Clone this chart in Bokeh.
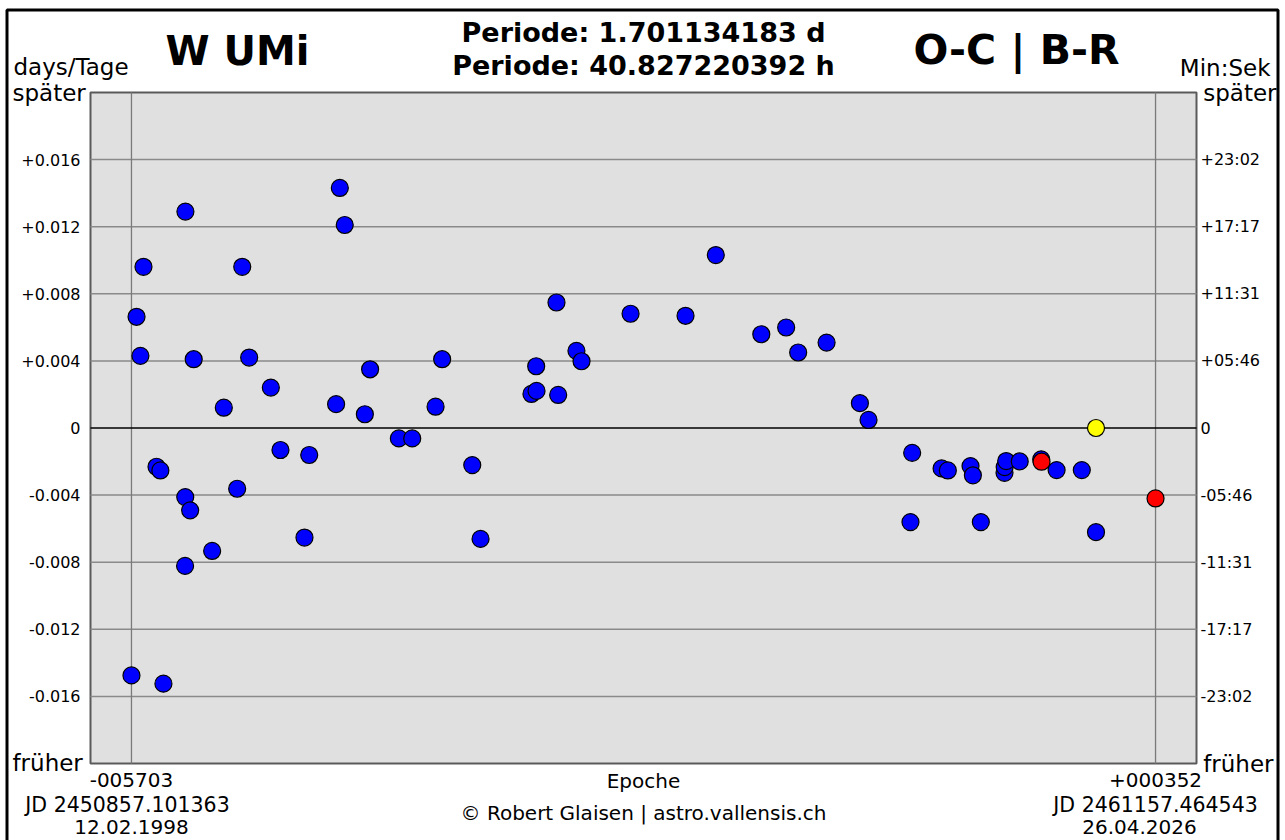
from bokeh.plotting import figure
from bokeh.models import Label, BoxAnnotation, Range1d
from bokeh.core.properties import value
from bokeh.embed import file_html
from bokeh.resources import INLINE

# ---------------- data ----------------
blue_epoch = [-5703, -5673, -5650, -5632, -5555, -5532, -5514, -5384, -5385, -5386,
              -5356, -5335, -5226, -5157, -5078, -5048, -5007, -4879, -4822, -4680,
              -4652, -4493, -4471, -4442, -4323, -4292, -4122, -4043, -3905, -3866,
              -3688, -3639, -3338, -3308, -3310, -3190, -3180, -3072, -3042, -2752,
              -2427, -2248, -1979, -1832, -1761, -1593, -1396, -1345, -1087, -1097,
              -913, -876, -742, -728, -681, -541, -540, -531, -451, -324,
              -233, -84, 0]
blue_oc = [-0.01475, 0.00663, 0.00430, 0.00961, -0.00231, -0.00253, -0.01524, 0.01290, -0.00412, -0.00822,
           -0.00491, 0.00410, -0.00733, 0.00121, -0.00362, 0.00961, 0.00420, 0.00241, -0.00131, -0.00653,
           -0.00161, 0.00142, 0.01431, 0.01210, 0.00082, 0.00350, -0.00062, -0.00062, 0.00127, 0.00410,
           -0.00221, -0.00661, 0.00203, 0.00221, 0.00368, 0.00748, 0.00197, 0.00460, 0.00398, 0.00681,
           0.00669, 0.01031, 0.00559, 0.00599, 0.00450, 0.00509, 0.00148, 0.00048, -0.00148, -0.00561,
           -0.00241, -0.00253, -0.00227, -0.00282, -0.00561, -0.00267, -0.00233, -0.00197, -0.00199, -0.00187,
           -0.00251, -0.00251, -0.00621]
red_epoch = [-322, 352]
red_oc = [-0.00201, -0.00420]
yellow_epoch = [0]
yellow_oc = [0.0]

start_epoch = -5703
end_epoch = 352
start_lines = ["-005703", "JD 2450857.101363", "12.02.1998"]
end_lines = ["+000352", "JD 2461157.464543", "26.04.2026"]

y_ticks = [-0.016, -0.012, -0.008, -0.004, 0.0, 0.004, 0.008, 0.012, 0.016]
left_labels = ["-0.016", "-0.012", "-0.008", "-0.004", "0", "+0.004", "+0.008", "+0.012", "+0.016"]
right_labels = ["-23:02", "-17:17", "-11:31", "-05:46", "0", "+05:46", "+11:31", "+17:17", "+23:02"]
y_limit = 0.020

title_left = "W UMi"
title_right = "O-C | B-R"
period_d = "Periode: 1.701134183 d"
period_h = "Periode: 40.827220392 h"
x_title = "Epoche"
credit = "\u00a9 Robert Glaisen | astro.vallensis.ch"

# ---------------- layout ----------------
FONT = "DejaVu Sans"
W, H = 1282, 840
# pixel box of the grey plotting area inside the canvas
PL, PT, PR, PB = 90, 92, 1196, 763

span = end_epoch - start_epoch
pad = 0.04 * span
x0, x1 = start_epoch - pad, end_epoch + pad
y0, y1 = -y_limit, y_limit


def X(px):
    return x0 + (px - PL) * (x1 - x0) / (PR - PL)


def Y(py):
    return y1 - (py - PT) * (y1 - y0) / (PB - PT)


# the whole canvas is the frame, so no text is clipped
p = figure(width=W, height=H, output_backend="svg", toolbar_location=None,
           x_range=Range1d(X(0), X(W)), y_range=Range1d(Y(H), Y(0)),
           x_axis_location=None, y_axis_location=None,
           min_border_left=0, min_border_right=0, min_border_top=0, min_border_bottom=0)
p.background_fill_color = "white"
p.border_fill_color = "white"
p.outline_line_color = None
for g in p.grid:
    g.visible = False

# grey plotting area with its frame
p.add_layout(BoxAnnotation(left=x0, right=x1, bottom=y0, top=y1,
                           fill_color="#e0e0e0", fill_alpha=1.0,
                           line_color="#5a5a5a", line_alpha=1.0, line_width=2,
                           level="image"))

# horizontal grid lines
grid_ticks = [t for t in y_ticks if t != 0.0]
n = len(grid_ticks)
p.segment(x0=[x0] * n, y0=grid_ticks, x1=[x1] * n, y1=grid_ticks,
          line_color="#8a8a8a", line_width=1.5)
# vertical lines at first / last epoch
p.segment(x0=[start_epoch, end_epoch], y0=[y0, y0], x1=[start_epoch, end_epoch], y1=[y1, y1],
          line_color="#7a7a7a", line_width=1.3)
# zero line
p.segment(x0=[x0], y0=[0.0], x1=[x1], y1=[0.0], line_color="black", line_width=1.5)

# data points
p.scatter(blue_epoch, blue_oc, size=17, fill_color="#0000ff", line_color="black", line_width=1.2)
p.scatter(red_epoch, red_oc, size=17, fill_color="#ff0000", line_color="black", line_width=1.2)
p.scatter(yellow_epoch, yellow_oc, size=17, fill_color="#ffff00", line_color="black", line_width=1.2)

# y tick labels (left: days, right: min:sec)
p.text(x=[X(PL - 10)] * len(y_ticks), y=y_ticks, text=left_labels,
       text_font=value(FONT), text_font_size=value("16px"), text_color="black",
       text_align="right", text_baseline="middle")
p.text(x=[X(PR + 4)] * len(y_ticks), y=y_ticks, text=right_labels,
       text_font=value(FONT), text_font_size=value("16px"), text_color="black",
       text_align="left", text_baseline="middle")


def lab(text, x, py, size, align="left", bold=False):
    p.add_layout(Label(x=x, y=Y(py), text=text, text_font=FONT,
                       text_font_size=size, text_align=align, text_baseline="middle",
                       text_font_style="bold" if bold else "normal", text_color="black"))


# titles (y = vertical centre of the text)
lab(title_left, X(237), 50, "40px", "center", True)
lab(title_right, X(1016), 49, "41px", "center", True)
lab(period_d, X(643), 32, "27px", "center", True)
lab(period_h, X(643), 65, "27px", "center", True)

# side labels
lab("days/Tage", X(13), 66, "23px")
lab("später", X(12), 92, "23px")
lab("früher", X(12), 762, "23px")
lab("Min:Sek", X(1270), 67, "23px", "right")
lab("später", X(1276), 92, "23px", "right")
lab("früher", X(1273), 763, "23px", "right")

# x tick labels (first / last epoch)
lab(start_lines[0], start_epoch, 779.5, "20px", "center")
lab(start_lines[1], X(127), 804, "20.5px", "center")
lab(start_lines[2], start_epoch, 826.5, "20px", "center")
lab(end_lines[0], end_epoch, 779.5, "20px", "center")
lab(end_lines[1], end_epoch, 804, "20.5px", "center")
lab(end_lines[2], X(1139), 826.5, "20px", "center")

# x title and credit
lab(x_title, X((PL + PR) / 2), 780, "20px", "center")
lab(credit, X((PL + PR) / 2), 812, "20px", "center")

# outer black frame (bottom edge lies below the canvas)
p.add_layout(BoxAnnotation(left=X(6.5), right=X(1277.5), top=Y(9.5), bottom=Y(H + 30),
                           fill_color=None, line_color="black", line_alpha=1.0,
                           line_width=3, level="overlay"))

open("out.html", "w").write(file_html(p, INLINE))
